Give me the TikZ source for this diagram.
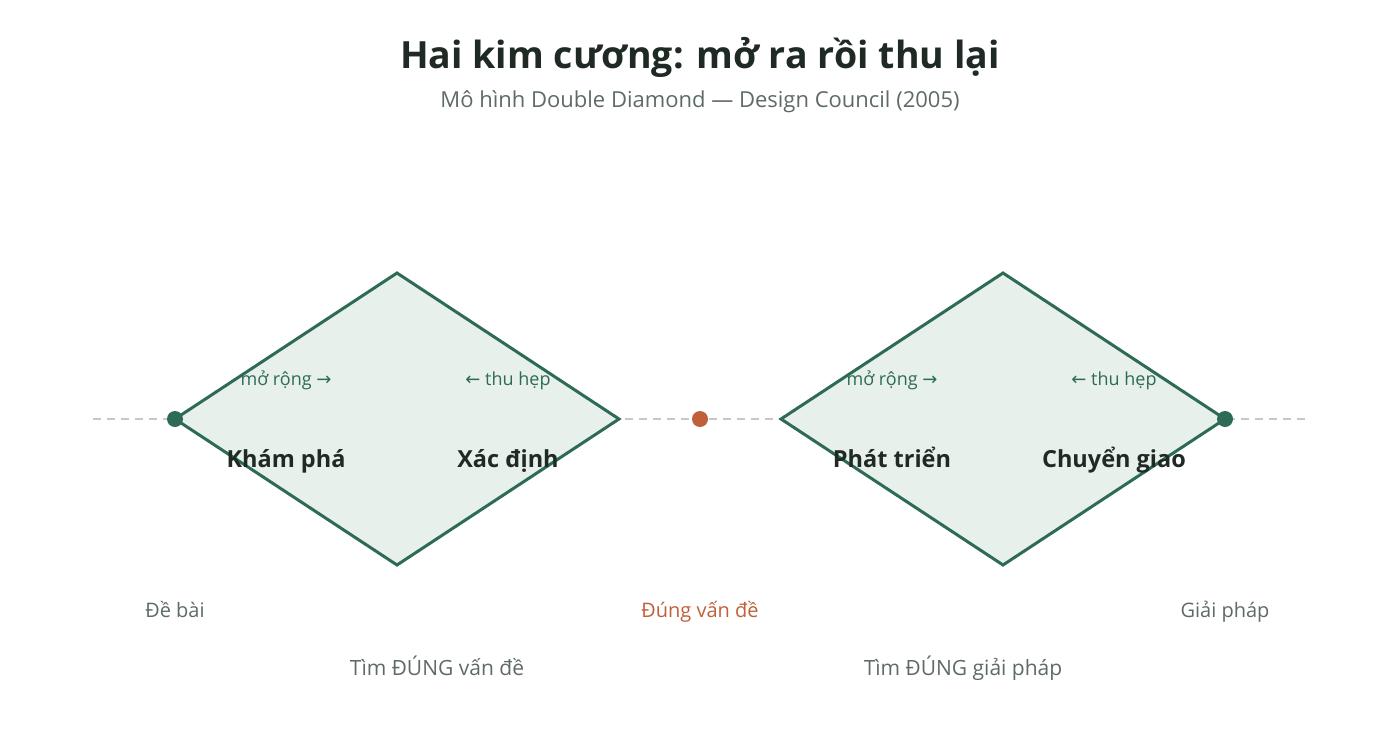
\documentclass[tikz,border=0pt]{standalone}
\usepackage{fontspec}
\setmainfont{Open Sans}
\newfontfamily\arrowfont{DejaVu Sans}
\usetikzlibrary{calc}

\definecolor{dgreen}{HTML}{2E6B57}
\definecolor{lgreen}{HTML}{E7F0EB}
\definecolor{rust}{HTML}{C0603A}
\definecolor{ink}{HTML}{1F2A24}
\definecolor{muted}{HTML}{5E6B64}
\definecolor{axisgray}{HTML}{C8C8C8}

\begin{document}
\begin{tikzpicture}[x=1pt, y=-1pt,
        every node/.style={anchor=base},
        D/.style={draw=dgreen, line width=3pt, fill=lgreen, line join=miter},
        dot/.style={circle, anchor=center, inner sep=0pt, minimum size=16pt, fill=#1},
        small/.style={font=\fontsize{18}{20}\selectfont, text=dgreen},
        phase/.style={font=\fontsize{23.5}{26}\selectfont\bfseries, text=ink},
        milestone/.style={font=\fontsize{20}{22}\selectfont, text=#1},
        stage/.style={font=\fontsize{21}{24}\selectfont, text=muted}
    ]
    \useasboundingbox (0,0) rectangle (1400,747);

    \def\h{146}
    \def\w{222}
    \def\yc{419}

    % title
    \node (title) at (700,68) {\fontsize{37.5}{42}\selectfont\bfseries\color{ink}Hai kim cương: mở ra rồi thu lại};
    \node (sub) at (700,107) {\fontsize{22}{26}\selectfont\color{muted}Mô hình Double Diamond — Design Council (2005)};

    % axis
    \coordinate (axL) at (93,\yc);
    \coordinate (axR) at (1305,\yc);
    \draw[axisgray, line width=1.6pt, dash pattern=on 8pt off 6pt] (axL) -- (axR);

    % diamonds
    \foreach \cx/\nm in {397/A, 1003/B}{
        \coordinate (\nm l) at (\cx-\w,\yc);
        \coordinate (\nm t) at (\cx,\yc-\h);
        \coordinate (\nm r) at (\cx+\w,\yc);
        \coordinate (\nm b) at (\cx,\yc+\h);
        \draw[D] (\nm l) -- (\nm t) -- (\nm r) -- (\nm b) -- cycle;
        \node[small] (\nm open) at (\cx-111,385) {mở rộng {\arrowfont →}};
        \node[small] (\nm close) at (\cx+111,385) {{\arrowfont ←} thu hẹp};
    }

    \node[phase] (kp) at (286,467) {Khám phá};
    \node[phase] (xd) at (508,467) {Xác định};
    \node[phase] (pt) at (892,467) {Phát triển};
    \node[phase] (cg) at (1114,467) {Chuyển giao};

    % milestones
    \node[dot=dgreen] (start) at (Al) {};
    \node[dot=rust] (mid) at (700,\yc) {};
    \node[dot=dgreen] (end) at (Br) {};

    \node[milestone=muted] (debai) at (175,617) {Đề bài};
    \node[milestone=rust] (dung) at (700,617) {Đúng vấn đề};
    \node[milestone=muted] (giai) at (1225,617) {Giải pháp};

    \node[stage] (s1) at (437,675) {Tìm ĐÚNG vấn đề};
    \node[stage] (s2) at (963,675) {Tìm ĐÚNG giải pháp};
\end{tikzpicture}
\end{document}
